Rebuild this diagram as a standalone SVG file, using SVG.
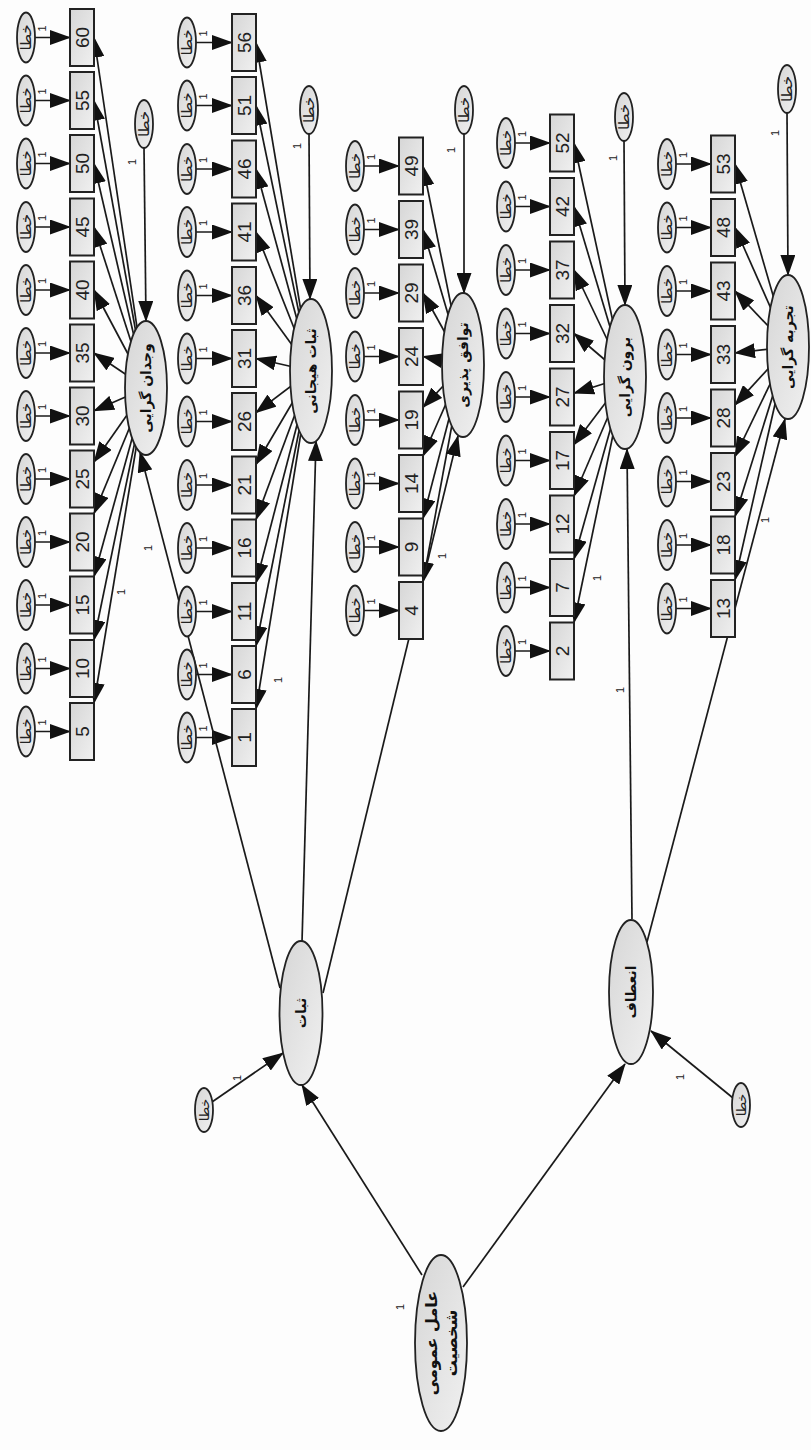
<svg xmlns="http://www.w3.org/2000/svg" width="811" height="1450" viewBox="0 0 811 1450">
<defs>
<linearGradient id="g" x1="0" y1="0" x2="1" y2="1"><stop offset="0" stop-color="#d6d6d6"/><stop offset="1" stop-color="#f0f0f0"/></linearGradient>
<marker id="ah" markerUnits="userSpaceOnUse" markerWidth="21" markerHeight="15" refX="20" refY="7.5" orient="auto"><path d="M0,0 L21,7.5 L0,15 z" fill="#111"/></marker>
<style>
.c line{stroke:#1a1a1a;stroke-width:1.7;fill:none;marker-end:url(#ah)}
.b{fill:url(#g);stroke:#222;stroke-width:2}
.e{fill:url(#g);stroke:#222;stroke-width:1.8}
.n{font-family:"Liberation Sans",Arial,sans-serif;font-size:19px;fill:#222;text-anchor:middle;dominant-baseline:central}
.k{font-family:"DejaVu Sans",sans-serif;font-size:15px;fill:#222;text-anchor:middle;dominant-baseline:central}
.o{font-family:"Liberation Sans",Arial,sans-serif;font-size:11px;fill:#222;text-anchor:middle;dominant-baseline:central}
.l{font-family:"DejaVu Sans",sans-serif;font-size:14px;font-weight:bold;fill:#111;text-anchor:middle;dominant-baseline:central}
</style>
</defs>
<rect width="811" height="1450" fill="#fdfdfd"/>
<g id="connectors" class="c">
<line x1="35" y1="37.5" x2="70" y2="37.5"/><line x1="35" y1="100.5" x2="70" y2="100.5"/><line x1="35" y1="163.5" x2="70" y2="163.5"/><line x1="35" y1="227" x2="70" y2="227"/><line x1="35" y1="290" x2="70" y2="290"/><line x1="35" y1="353" x2="70" y2="353"/><line x1="35" y1="416" x2="70" y2="416"/><line x1="35" y1="479" x2="70" y2="479"/><line x1="35" y1="542" x2="70" y2="542"/><line x1="35" y1="605" x2="70" y2="605"/><line x1="35" y1="668.5" x2="70" y2="668.5"/><line x1="35" y1="731.5" x2="70" y2="731.5"/>
<line x1="196" y1="42.5" x2="232" y2="42.5"/><line x1="196" y1="105.5" x2="232" y2="105.5"/><line x1="196" y1="169" x2="232" y2="169"/><line x1="196" y1="232" x2="232" y2="232"/><line x1="196" y1="295.5" x2="232" y2="295.5"/><line x1="196" y1="358.5" x2="232" y2="358.5"/><line x1="196" y1="421.5" x2="232" y2="421.5"/><line x1="196" y1="485" x2="232" y2="485"/><line x1="196" y1="548" x2="232" y2="548"/><line x1="196" y1="611.5" x2="232" y2="611.5"/><line x1="196" y1="674.5" x2="232" y2="674.5"/><line x1="196" y1="737.5" x2="232" y2="737.5"/>
<line x1="364" y1="166" x2="399" y2="166"/><line x1="364" y1="229.5" x2="399" y2="229.5"/><line x1="364" y1="293" x2="399" y2="293"/><line x1="364" y1="356.5" x2="399" y2="356.5"/><line x1="364" y1="420" x2="399" y2="420"/><line x1="364" y1="483.5" x2="399" y2="483.5"/><line x1="364" y1="547" x2="399" y2="547"/><line x1="364" y1="610.5" x2="399" y2="610.5"/>
<line x1="515" y1="143" x2="550" y2="143"/><line x1="515" y1="206.5" x2="550" y2="206.5"/><line x1="515" y1="270" x2="550" y2="270"/><line x1="515" y1="333.5" x2="550" y2="333.5"/><line x1="515" y1="397" x2="550" y2="397"/><line x1="515" y1="460.5" x2="550" y2="460.5"/><line x1="515" y1="524" x2="550" y2="524"/><line x1="515" y1="587.5" x2="550" y2="587.5"/><line x1="515" y1="651" x2="550" y2="651"/>
<line x1="676" y1="164" x2="711" y2="164"/><line x1="676" y1="227.5" x2="711" y2="227.5"/><line x1="676" y1="291" x2="711" y2="291"/><line x1="676" y1="354.5" x2="711" y2="354.5"/><line x1="676" y1="418" x2="711" y2="418"/><line x1="676" y1="481.5" x2="711" y2="481.5"/><line x1="676" y1="545" x2="711" y2="545"/><line x1="676" y1="608.5" x2="711" y2="608.5"/>
<line x1="146" y1="388" x2="94" y2="37.5"/><line x1="146" y1="388" x2="94" y2="100.5"/><line x1="146" y1="388" x2="94" y2="163.5"/><line x1="146" y1="388" x2="94" y2="227"/><line x1="146" y1="388" x2="94" y2="290"/><line x1="146" y1="388" x2="94" y2="353"/><line x1="146" y1="388" x2="94" y2="410.8"/><line x1="146" y1="388" x2="94" y2="462"/><line x1="146" y1="388" x2="94" y2="513.5"/><line x1="146" y1="388" x2="94" y2="576.5"/><line x1="146" y1="388" x2="94" y2="640"/><line x1="146" y1="388" x2="94" y2="703"/>
<line x1="311" y1="371" x2="256" y2="42.5"/><line x1="311" y1="371" x2="256" y2="105.5"/><line x1="311" y1="371" x2="256" y2="169"/><line x1="311" y1="371" x2="256" y2="232"/><line x1="311" y1="371" x2="256" y2="295.5"/><line x1="311" y1="371" x2="256" y2="358.5"/><line x1="311" y1="371" x2="256" y2="412.6"/><line x1="311" y1="371" x2="256" y2="464.5"/><line x1="311" y1="371" x2="256" y2="519.5"/><line x1="311" y1="371" x2="256" y2="583"/><line x1="311" y1="371" x2="256" y2="646"/><line x1="311" y1="371" x2="256" y2="709"/>
<line x1="463" y1="365" x2="423" y2="166"/><line x1="463" y1="365" x2="423" y2="229.5"/><line x1="463" y1="365" x2="423" y2="293"/><line x1="463" y1="365" x2="423" y2="356.5"/><line x1="463" y1="365" x2="423" y2="407.3"/><line x1="463" y1="365" x2="423" y2="456"/><line x1="463" y1="365" x2="423" y2="518.5"/><line x1="463" y1="365" x2="423" y2="582"/>
<line x1="625" y1="377" x2="574" y2="143"/><line x1="625" y1="377" x2="574" y2="206.5"/><line x1="625" y1="377" x2="574" y2="270"/><line x1="625" y1="377" x2="574" y2="333.5"/><line x1="625" y1="377" x2="574" y2="393.2"/><line x1="625" y1="377" x2="574" y2="444.6"/><line x1="625" y1="377" x2="574" y2="496"/><line x1="625" y1="377" x2="574" y2="559"/><line x1="625" y1="377" x2="574" y2="622.5"/>
<line x1="788" y1="347" x2="735" y2="164"/><line x1="788" y1="347" x2="735" y2="227.5"/><line x1="788" y1="347" x2="735" y2="291"/><line x1="788" y1="347" x2="735" y2="353"/><line x1="788" y1="347" x2="735" y2="404.9"/><line x1="788" y1="347" x2="735" y2="456.6"/><line x1="788" y1="347" x2="735" y2="516.5"/><line x1="788" y1="347" x2="735" y2="580"/>
<line x1="144" y1="148" x2="146" y2="321"/><line x1="309" y1="134" x2="310" y2="299"/><line x1="464" y1="134" x2="464" y2="293"/><line x1="624" y1="141" x2="625" y2="305"/><line x1="787" y1="113" x2="788" y2="275"/>
<line x1="280" y1="988" x2="140" y2="452"/><line x1="302" y1="942" x2="316" y2="441"/><line x1="323" y1="993" x2="458" y2="436"/><line x1="632" y1="919" x2="627" y2="449"/><line x1="647" y1="942" x2="785" y2="419"/><line x1="422" y1="1275" x2="302" y2="1085"/><line x1="463" y1="1287" x2="625" y2="1064"/><line x1="212" y1="1102" x2="283" y2="1053"/><line x1="733" y1="1098" x2="651" y2="1031"/>
</g>
<g id="labels1">
<g class="o">
<text transform="translate(42,28.5) rotate(-90)">1</text><text transform="translate(42,91.5) rotate(-90)">1</text><text transform="translate(42,154.5) rotate(-90)">1</text><text transform="translate(42,218) rotate(-90)">1</text><text transform="translate(42,281) rotate(-90)">1</text><text transform="translate(42,344) rotate(-90)">1</text><text transform="translate(42,407) rotate(-90)">1</text><text transform="translate(42,470) rotate(-90)">1</text><text transform="translate(42,533) rotate(-90)">1</text><text transform="translate(42,596) rotate(-90)">1</text><text transform="translate(42,659.5) rotate(-90)">1</text><text transform="translate(42,722.5) rotate(-90)">1</text>
<text transform="translate(203,33.5) rotate(-90)">1</text><text transform="translate(203,96.5) rotate(-90)">1</text><text transform="translate(203,160) rotate(-90)">1</text><text transform="translate(203,223) rotate(-90)">1</text><text transform="translate(203,286.5) rotate(-90)">1</text><text transform="translate(203,349.5) rotate(-90)">1</text><text transform="translate(203,412.5) rotate(-90)">1</text><text transform="translate(203,476) rotate(-90)">1</text><text transform="translate(203,539) rotate(-90)">1</text><text transform="translate(203,602.5) rotate(-90)">1</text><text transform="translate(203,665.5) rotate(-90)">1</text><text transform="translate(203,728.5) rotate(-90)">1</text>
<text transform="translate(371,157) rotate(-90)">1</text><text transform="translate(371,220.5) rotate(-90)">1</text><text transform="translate(371,284) rotate(-90)">1</text><text transform="translate(371,347.5) rotate(-90)">1</text><text transform="translate(371,411) rotate(-90)">1</text><text transform="translate(371,474.5) rotate(-90)">1</text><text transform="translate(371,538) rotate(-90)">1</text><text transform="translate(371,601.5) rotate(-90)">1</text>
<text transform="translate(522,134) rotate(-90)">1</text><text transform="translate(522,197.5) rotate(-90)">1</text><text transform="translate(522,261) rotate(-90)">1</text><text transform="translate(522,324.5) rotate(-90)">1</text><text transform="translate(522,388) rotate(-90)">1</text><text transform="translate(522,451.5) rotate(-90)">1</text><text transform="translate(522,515) rotate(-90)">1</text><text transform="translate(522,578.5) rotate(-90)">1</text><text transform="translate(522,642) rotate(-90)">1</text>
<text transform="translate(683,155) rotate(-90)">1</text><text transform="translate(683,218.5) rotate(-90)">1</text><text transform="translate(683,282) rotate(-90)">1</text><text transform="translate(683,345.5) rotate(-90)">1</text><text transform="translate(683,409) rotate(-90)">1</text><text transform="translate(683,472.5) rotate(-90)">1</text><text transform="translate(683,536) rotate(-90)">1</text><text transform="translate(683,599.5) rotate(-90)">1</text>
<text transform="translate(132,162) rotate(-90)">1</text>
<text transform="translate(297,146) rotate(-90)">1</text>
<text transform="translate(451,150) rotate(-90)">1</text>
<text transform="translate(613,158) rotate(-90)">1</text>
<text transform="translate(775,133) rotate(-90)">1</text>
<text transform="translate(121,592) rotate(-90)">1</text>
<text transform="translate(148,548) rotate(-90)">1</text>
<text transform="translate(278,680) rotate(-90)">1</text>
<text transform="translate(442,556) rotate(-90)">1</text>
<text transform="translate(597,578) rotate(-90)">1</text>
<text transform="translate(620,690) rotate(-90)">1</text>
<text transform="translate(765,520) rotate(-90)">1</text>
<text transform="translate(237,1078) rotate(-90)">1</text>
<text transform="translate(680,1077) rotate(-90)">1</text>
<text transform="translate(400,1307) rotate(-90)">1</text>
</g>
</g>
<g id="box60"><rect class="b" x="70" y="9" width="24" height="57"/><text class="n" transform="translate(82,37.5) rotate(-90)">60</text></g>
<g id="box55"><rect class="b" x="70" y="72" width="24" height="57"/><text class="n" transform="translate(82,100.5) rotate(-90)">55</text></g>
<g id="box50"><rect class="b" x="70" y="135" width="24" height="57"/><text class="n" transform="translate(82,163.5) rotate(-90)">50</text></g>
<g id="box45"><rect class="b" x="70" y="198.5" width="24" height="57"/><text class="n" transform="translate(82,227) rotate(-90)">45</text></g>
<g id="box40"><rect class="b" x="70" y="261.5" width="24" height="57"/><text class="n" transform="translate(82,290) rotate(-90)">40</text></g>
<g id="box35"><rect class="b" x="70" y="324.5" width="24" height="57"/><text class="n" transform="translate(82,353) rotate(-90)">35</text></g>
<g id="box30"><rect class="b" x="70" y="387.5" width="24" height="57"/><text class="n" transform="translate(82,416) rotate(-90)">30</text></g>
<g id="box25"><rect class="b" x="70" y="450.5" width="24" height="57"/><text class="n" transform="translate(82,479) rotate(-90)">25</text></g>
<g id="box20"><rect class="b" x="70" y="513.5" width="24" height="57"/><text class="n" transform="translate(82,542) rotate(-90)">20</text></g>
<g id="box15"><rect class="b" x="70" y="576.5" width="24" height="57"/><text class="n" transform="translate(82,605) rotate(-90)">15</text></g>
<g id="box10"><rect class="b" x="70" y="640" width="24" height="57"/><text class="n" transform="translate(82,668.5) rotate(-90)">10</text></g>
<g id="box5"><rect class="b" x="70" y="703" width="24" height="57"/><text class="n" transform="translate(82,731.5) rotate(-90)">5</text></g>
<g id="box56"><rect class="b" x="232" y="14" width="24" height="57"/><text class="n" transform="translate(244,42.5) rotate(-90)">56</text></g>
<g id="box51"><rect class="b" x="232" y="77" width="24" height="57"/><text class="n" transform="translate(244,105.5) rotate(-90)">51</text></g>
<g id="box46"><rect class="b" x="232" y="140.5" width="24" height="57"/><text class="n" transform="translate(244,169) rotate(-90)">46</text></g>
<g id="box41"><rect class="b" x="232" y="203.5" width="24" height="57"/><text class="n" transform="translate(244,232) rotate(-90)">41</text></g>
<g id="box36"><rect class="b" x="232" y="267" width="24" height="57"/><text class="n" transform="translate(244,295.5) rotate(-90)">36</text></g>
<g id="box31"><rect class="b" x="232" y="330" width="24" height="57"/><text class="n" transform="translate(244,358.5) rotate(-90)">31</text></g>
<g id="box26"><rect class="b" x="232" y="393" width="24" height="57"/><text class="n" transform="translate(244,421.5) rotate(-90)">26</text></g>
<g id="box21"><rect class="b" x="232" y="456.5" width="24" height="57"/><text class="n" transform="translate(244,485) rotate(-90)">21</text></g>
<g id="box16"><rect class="b" x="232" y="519.5" width="24" height="57"/><text class="n" transform="translate(244,548) rotate(-90)">16</text></g>
<g id="box11"><rect class="b" x="232" y="583" width="24" height="57"/><text class="n" transform="translate(244,611.5) rotate(-90)">11</text></g>
<g id="box6"><rect class="b" x="232" y="646" width="24" height="57"/><text class="n" transform="translate(244,674.5) rotate(-90)">6</text></g>
<g id="box1"><rect class="b" x="232" y="709" width="24" height="57"/><text class="n" transform="translate(244,737.5) rotate(-90)">1</text></g>
<g id="box49"><rect class="b" x="399" y="137.5" width="24" height="57"/><text class="n" transform="translate(411,166) rotate(-90)">49</text></g>
<g id="box39"><rect class="b" x="399" y="201" width="24" height="57"/><text class="n" transform="translate(411,229.5) rotate(-90)">39</text></g>
<g id="box29"><rect class="b" x="399" y="264.5" width="24" height="57"/><text class="n" transform="translate(411,293) rotate(-90)">29</text></g>
<g id="box24"><rect class="b" x="399" y="328" width="24" height="57"/><text class="n" transform="translate(411,356.5) rotate(-90)">24</text></g>
<g id="box19"><rect class="b" x="399" y="391.5" width="24" height="57"/><text class="n" transform="translate(411,420) rotate(-90)">19</text></g>
<g id="box14"><rect class="b" x="399" y="455" width="24" height="57"/><text class="n" transform="translate(411,483.5) rotate(-90)">14</text></g>
<g id="box9"><rect class="b" x="399" y="518.5" width="24" height="57"/><text class="n" transform="translate(411,547) rotate(-90)">9</text></g>
<g id="box4"><rect class="b" x="399" y="582" width="24" height="57"/><text class="n" transform="translate(411,610.5) rotate(-90)">4</text></g>
<g id="box52"><rect class="b" x="550" y="114.5" width="24" height="57"/><text class="n" transform="translate(562,143) rotate(-90)">52</text></g>
<g id="box42"><rect class="b" x="550" y="178" width="24" height="57"/><text class="n" transform="translate(562,206.5) rotate(-90)">42</text></g>
<g id="box37"><rect class="b" x="550" y="241.5" width="24" height="57"/><text class="n" transform="translate(562,270) rotate(-90)">37</text></g>
<g id="box32"><rect class="b" x="550" y="305" width="24" height="57"/><text class="n" transform="translate(562,333.5) rotate(-90)">32</text></g>
<g id="box27"><rect class="b" x="550" y="368.5" width="24" height="57"/><text class="n" transform="translate(562,397) rotate(-90)">27</text></g>
<g id="box17"><rect class="b" x="550" y="432" width="24" height="57"/><text class="n" transform="translate(562,460.5) rotate(-90)">17</text></g>
<g id="box12"><rect class="b" x="550" y="495.5" width="24" height="57"/><text class="n" transform="translate(562,524) rotate(-90)">12</text></g>
<g id="box7"><rect class="b" x="550" y="559" width="24" height="57"/><text class="n" transform="translate(562,587.5) rotate(-90)">7</text></g>
<g id="box2"><rect class="b" x="550" y="622.5" width="24" height="57"/><text class="n" transform="translate(562,651) rotate(-90)">2</text></g>
<g id="box53"><rect class="b" x="711" y="135.5" width="24" height="57"/><text class="n" transform="translate(723,164) rotate(-90)">53</text></g>
<g id="box48"><rect class="b" x="711" y="199" width="24" height="57"/><text class="n" transform="translate(723,227.5) rotate(-90)">48</text></g>
<g id="box43"><rect class="b" x="711" y="262.5" width="24" height="57"/><text class="n" transform="translate(723,291) rotate(-90)">43</text></g>
<g id="box33"><rect class="b" x="711" y="326" width="24" height="57"/><text class="n" transform="translate(723,354.5) rotate(-90)">33</text></g>
<g id="box28"><rect class="b" x="711" y="389.5" width="24" height="57"/><text class="n" transform="translate(723,418) rotate(-90)">28</text></g>
<g id="box23"><rect class="b" x="711" y="453" width="24" height="57"/><text class="n" transform="translate(723,481.5) rotate(-90)">23</text></g>
<g id="box18"><rect class="b" x="711" y="516.5" width="24" height="57"/><text class="n" transform="translate(723,545) rotate(-90)">18</text></g>
<g id="box13"><rect class="b" x="711" y="580" width="24" height="57"/><text class="n" transform="translate(723,608.5) rotate(-90)">13</text></g>
<g id="err-g1">
<g id="e60"><ellipse class="e" cx="26" cy="37.5" rx="9" ry="25"/><text class="k" transform="translate(26,37.5) rotate(-90)">خطا</text></g>
<g id="e55"><ellipse class="e" cx="26" cy="100.5" rx="9" ry="25"/><text class="k" transform="translate(26,100.5) rotate(-90)">خطا</text></g>
<g id="e50"><ellipse class="e" cx="26" cy="163.5" rx="9" ry="25"/><text class="k" transform="translate(26,163.5) rotate(-90)">خطا</text></g>
<g id="e45"><ellipse class="e" cx="26" cy="227" rx="9" ry="25"/><text class="k" transform="translate(26,227) rotate(-90)">خطا</text></g>
<g id="e40"><ellipse class="e" cx="26" cy="290" rx="9" ry="25"/><text class="k" transform="translate(26,290) rotate(-90)">خطا</text></g>
<g id="e35"><ellipse class="e" cx="26" cy="353" rx="9" ry="25"/><text class="k" transform="translate(26,353) rotate(-90)">خطا</text></g>
<g id="e30"><ellipse class="e" cx="26" cy="416" rx="9" ry="25"/><text class="k" transform="translate(26,416) rotate(-90)">خطا</text></g>
<g id="e25"><ellipse class="e" cx="26" cy="479" rx="9" ry="25"/><text class="k" transform="translate(26,479) rotate(-90)">خطا</text></g>
<g id="e20"><ellipse class="e" cx="26" cy="542" rx="9" ry="25"/><text class="k" transform="translate(26,542) rotate(-90)">خطا</text></g>
<g id="e15"><ellipse class="e" cx="26" cy="605" rx="9" ry="25"/><text class="k" transform="translate(26,605) rotate(-90)">خطا</text></g>
<g id="e10"><ellipse class="e" cx="26" cy="668.5" rx="9" ry="25"/><text class="k" transform="translate(26,668.5) rotate(-90)">خطا</text></g>
<g id="e5"><ellipse class="e" cx="26" cy="731.5" rx="9" ry="25"/><text class="k" transform="translate(26,731.5) rotate(-90)">خطا</text></g>
</g>
<g id="err-g2">
<g id="e56"><ellipse class="e" cx="187" cy="42.5" rx="9" ry="25"/><text class="k" transform="translate(187,42.5) rotate(-90)">خطا</text></g>
<g id="e51"><ellipse class="e" cx="187" cy="105.5" rx="9" ry="25"/><text class="k" transform="translate(187,105.5) rotate(-90)">خطا</text></g>
<g id="e46"><ellipse class="e" cx="187" cy="169" rx="9" ry="25"/><text class="k" transform="translate(187,169) rotate(-90)">خطا</text></g>
<g id="e41"><ellipse class="e" cx="187" cy="232" rx="9" ry="25"/><text class="k" transform="translate(187,232) rotate(-90)">خطا</text></g>
<g id="e36"><ellipse class="e" cx="187" cy="295.5" rx="9" ry="25"/><text class="k" transform="translate(187,295.5) rotate(-90)">خطا</text></g>
<g id="e31"><ellipse class="e" cx="187" cy="358.5" rx="9" ry="25"/><text class="k" transform="translate(187,358.5) rotate(-90)">خطا</text></g>
<g id="e26"><ellipse class="e" cx="187" cy="421.5" rx="9" ry="25"/><text class="k" transform="translate(187,421.5) rotate(-90)">خطا</text></g>
<g id="e21"><ellipse class="e" cx="187" cy="485" rx="9" ry="25"/><text class="k" transform="translate(187,485) rotate(-90)">خطا</text></g>
<g id="e16"><ellipse class="e" cx="187" cy="548" rx="9" ry="25"/><text class="k" transform="translate(187,548) rotate(-90)">خطا</text></g>
<g id="e11"><ellipse class="e" cx="187" cy="611.5" rx="9" ry="25"/><text class="k" transform="translate(187,611.5) rotate(-90)">خطا</text></g>
<g id="e6"><ellipse class="e" cx="187" cy="674.5" rx="9" ry="25"/><text class="k" transform="translate(187,674.5) rotate(-90)">خطا</text></g>
<g id="e1"><ellipse class="e" cx="187" cy="737.5" rx="9" ry="25"/><text class="k" transform="translate(187,737.5) rotate(-90)">خطا</text></g>
</g>
<g id="err-g3">
<g id="e49"><ellipse class="e" cx="355" cy="166" rx="9" ry="25"/><text class="k" transform="translate(355,166) rotate(-90)">خطا</text></g>
<g id="e39"><ellipse class="e" cx="355" cy="229.5" rx="9" ry="25"/><text class="k" transform="translate(355,229.5) rotate(-90)">خطا</text></g>
<g id="e29"><ellipse class="e" cx="355" cy="293" rx="9" ry="25"/><text class="k" transform="translate(355,293) rotate(-90)">خطا</text></g>
<g id="e24"><ellipse class="e" cx="355" cy="356.5" rx="9" ry="25"/><text class="k" transform="translate(355,356.5) rotate(-90)">خطا</text></g>
<g id="e19"><ellipse class="e" cx="355" cy="420" rx="9" ry="25"/><text class="k" transform="translate(355,420) rotate(-90)">خطا</text></g>
<g id="e14"><ellipse class="e" cx="355" cy="483.5" rx="9" ry="25"/><text class="k" transform="translate(355,483.5) rotate(-90)">خطا</text></g>
<g id="e9"><ellipse class="e" cx="355" cy="547" rx="9" ry="25"/><text class="k" transform="translate(355,547) rotate(-90)">خطا</text></g>
<g id="e4"><ellipse class="e" cx="355" cy="610.5" rx="9" ry="25"/><text class="k" transform="translate(355,610.5) rotate(-90)">خطا</text></g>
</g>
<g id="err-g4">
<g id="e52"><ellipse class="e" cx="506" cy="143" rx="9" ry="25"/><text class="k" transform="translate(506,143) rotate(-90)">خطا</text></g>
<g id="e42"><ellipse class="e" cx="506" cy="206.5" rx="9" ry="25"/><text class="k" transform="translate(506,206.5) rotate(-90)">خطا</text></g>
<g id="e37"><ellipse class="e" cx="506" cy="270" rx="9" ry="25"/><text class="k" transform="translate(506,270) rotate(-90)">خطا</text></g>
<g id="e32"><ellipse class="e" cx="506" cy="333.5" rx="9" ry="25"/><text class="k" transform="translate(506,333.5) rotate(-90)">خطا</text></g>
<g id="e27"><ellipse class="e" cx="506" cy="397" rx="9" ry="25"/><text class="k" transform="translate(506,397) rotate(-90)">خطا</text></g>
<g id="e17"><ellipse class="e" cx="506" cy="460.5" rx="9" ry="25"/><text class="k" transform="translate(506,460.5) rotate(-90)">خطا</text></g>
<g id="e12"><ellipse class="e" cx="506" cy="524" rx="9" ry="25"/><text class="k" transform="translate(506,524) rotate(-90)">خطا</text></g>
<g id="e7"><ellipse class="e" cx="506" cy="587.5" rx="9" ry="25"/><text class="k" transform="translate(506,587.5) rotate(-90)">خطا</text></g>
<g id="e2"><ellipse class="e" cx="506" cy="651" rx="9" ry="25"/><text class="k" transform="translate(506,651) rotate(-90)">خطا</text></g>
</g>
<g id="err-g5">
<g id="e53"><ellipse class="e" cx="667" cy="164" rx="9" ry="25"/><text class="k" transform="translate(667,164) rotate(-90)">خطا</text></g>
<g id="e48"><ellipse class="e" cx="667" cy="227.5" rx="9" ry="25"/><text class="k" transform="translate(667,227.5) rotate(-90)">خطا</text></g>
<g id="e43"><ellipse class="e" cx="667" cy="291" rx="9" ry="25"/><text class="k" transform="translate(667,291) rotate(-90)">خطا</text></g>
<g id="e33"><ellipse class="e" cx="667" cy="354.5" rx="9" ry="25"/><text class="k" transform="translate(667,354.5) rotate(-90)">خطا</text></g>
<g id="e28"><ellipse class="e" cx="667" cy="418" rx="9" ry="25"/><text class="k" transform="translate(667,418) rotate(-90)">خطا</text></g>
<g id="e23"><ellipse class="e" cx="667" cy="481.5" rx="9" ry="25"/><text class="k" transform="translate(667,481.5) rotate(-90)">خطا</text></g>
<g id="e18"><ellipse class="e" cx="667" cy="545" rx="9" ry="25"/><text class="k" transform="translate(667,545) rotate(-90)">خطا</text></g>
<g id="e13"><ellipse class="e" cx="667" cy="608.5" rx="9" ry="25"/><text class="k" transform="translate(667,608.5) rotate(-90)">خطا</text></g>
</g>
<g id="eL1"><ellipse class="e" cx="144" cy="124" rx="9" ry="24"/><text class="k" transform="translate(144,124) rotate(-90)">خطا</text></g>
<g id="eL2"><ellipse class="e" cx="309" cy="110" rx="9" ry="24"/><text class="k" transform="translate(309,110) rotate(-90)">خطا</text></g>
<g id="eL3"><ellipse class="e" cx="464" cy="110" rx="9" ry="24"/><text class="k" transform="translate(464,110) rotate(-90)">خطا</text></g>
<g id="eL4"><ellipse class="e" cx="624" cy="117" rx="9" ry="24"/><text class="k" transform="translate(624,117) rotate(-90)">خطا</text></g>
<g id="eL5"><ellipse class="e" cx="787" cy="89" rx="9" ry="24"/><text class="k" transform="translate(787,89) rotate(-90)">خطا</text></g>
<g id="eS1"><ellipse class="e" cx="204" cy="1110" rx="9" ry="22"/><text class="k" style="font-size:13px" transform="translate(204,1110) rotate(-90)">خطا</text></g>
<g id="eS2"><ellipse class="e" cx="741" cy="1105" rx="9" ry="22"/><text class="k" style="font-size:13px" transform="translate(741,1105) rotate(-90)">خطا</text></g>
<g id="L1"><ellipse class="e" cx="146" cy="388" rx="21" ry="67"/><text class="l" transform="translate(146,388) rotate(-90)">وجدان گرایی</text></g>
<g id="L2"><ellipse class="e" cx="311" cy="371" rx="21" ry="72"/><text class="l" transform="translate(311,371) rotate(-90)">ثبات هیجانی</text></g>
<g id="L3"><ellipse class="e" cx="463" cy="365" rx="21" ry="72"/><text class="l" transform="translate(463,365) rotate(-90)">توافق پذیری</text></g>
<g id="L4"><ellipse class="e" cx="625" cy="377" rx="21" ry="72"/><text class="l" transform="translate(625,377) rotate(-90)">برون گرایی</text></g>
<g id="L5"><ellipse class="e" cx="788" cy="347" rx="21" ry="72"/><text class="l" transform="translate(788,347) rotate(-90)">تجربه گرایی</text></g>
<g id="S1"><ellipse class="e" cx="301" cy="1013" rx="21.5" ry="72"/><text class="l" transform="translate(301,1013) rotate(-90)">ثبات</text></g>
<g id="S2"><ellipse class="e" cx="631" cy="992" rx="22" ry="72"/><text class="l" transform="translate(631,992) rotate(-90)">انعطاف</text></g>
<g id="root"><ellipse class="e" cx="441" cy="1343" rx="26" ry="88"/><text class="l" style="font-size:16px" transform="translate(441,1343) rotate(-90)"><tspan x="0" y="-10">عامل عمومی</tspan><tspan x="0" y="10">شخصیت</tspan></text></g>
</svg>
